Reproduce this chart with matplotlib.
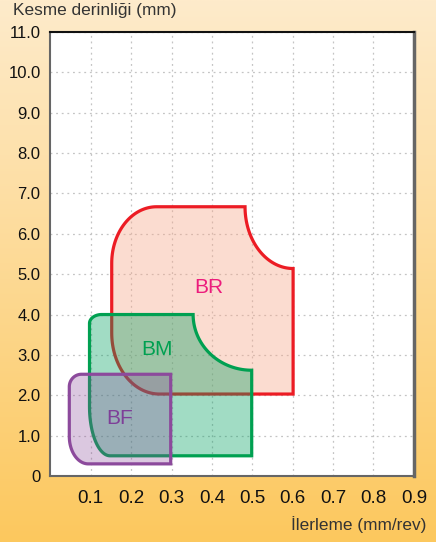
import numpy as np
import matplotlib
matplotlib.use("Agg")
import matplotlib.pyplot as plt
from matplotlib.patches import Polygon
from matplotlib.colors import to_rgba
from matplotlib import font_manager

# ---- data (feed mm/rev, depth of cut mm) ----
regions = ["BR", "BM", "BF"]
feed_min = [0.152, 0.097, 0.047]
feed_max = [0.601, 0.4985, 0.298]
depth_min = [2.03, 0.50, 0.30]
depth_max = [6.67, 4.00, 2.52]
# corner rounding (feed extent, depth extent)
top_left = [(0.111, 1.40), (0.030, 0.22), (0.030, 0.31)]
bottom_left = [(0.118, 1.51), (0.051, 1.22), (0.047, 0.68)]
top_right_cut = [(0.119, 1.53), (0.145, 1.38), (0.0, 0.0)]
label_pos = [(0.393, 4.66), (0.265, 3.13), (0.171, 1.42)]

edge_colors = ["#EC1C24", "#00A051", "#8C4A9C"]
face_colors = ["#F7A88A", "#00A060", "#8A4A9A"]
face_alpha = [0.40, 0.37, 0.30]
text_colors = ["#EC1C7C", "#00A051", "#7E3F98"]

x_ticks = [0.1, 0.2, 0.3, 0.4, 0.5, 0.6, 0.7, 0.8, 0.9]
y_ticks = [0, 1, 2, 3, 4, 5, 6, 7, 8, 9, 10, 11]
y_ticklabels = ["0"] + [f"{v:.1f}" for v in y_ticks[1:]]


def outline(x0, x1, y0, y1, tl, bl, tr, n=40):
    pts = []
    rx, ry = tl
    t = np.linspace(np.pi, np.pi / 2, n)
    pts += list(zip(x0 + rx + rx * np.cos(t), y1 - ry + ry * np.sin(t)))
    rx, ry = tr
    if rx > 0:
        # concave bite out of the top right corner
        t = np.linspace(np.pi, 1.5 * np.pi, n)
        pts += list(zip(x1 + rx * np.cos(t), y1 + ry * np.sin(t)))
    else:
        pts.append((x1, y1))
    pts.append((x1, y0))
    rx, ry = bl
    t = np.linspace(1.5 * np.pi, np.pi, n)
    pts += list(zip(x0 + rx + rx * np.cos(t), y0 + ry + ry * np.sin(t)))
    return np.array(pts)


def has_font(name):
    try:
        font_manager.findfont(name, fallback_to_default=False)
        return True
    except Exception:
        return False


tick_family = ["Liberation Sans", "DejaVu Sans"]
narrow_ok = has_font("Liberation Sans Narrow")
if narrow_ok:
    tick_family = ["Liberation Sans Narrow"] + tick_family

fig = plt.figure(figsize=(4.36, 5.42), dpi=100)

# background gradient
bg = fig.add_axes([0, 0, 1, 1], zorder=-1)
top = np.array(to_rgba("#FEEBCB"))
bot = np.array(to_rgba("#FCC85E"))
g = np.linspace(0, 1, 256)[:, None, None]
img = top * (1 - g) + bot * g
bg.imshow(np.repeat(img, 2, axis=1), aspect="auto", extent=[0, 1, 0, 1])
bg.axis("off")

ax = fig.add_axes([0.1154, 0.1218, 0.8339, 0.8192])
ax.set_facecolor("white")
ax.set_xlim(0, 0.9)
ax.set_ylim(0, 11)

for i, name in enumerate(regions):
    pts = outline(feed_min[i], feed_max[i], depth_min[i], depth_max[i],
                  top_left[i], bottom_left[i], top_right_cut[i])
    ax.add_patch(Polygon(pts, closed=True,
                         facecolor=to_rgba(face_colors[i], face_alpha[i]),
                         edgecolor=edge_colors[i], linewidth=2.3,
                         zorder=2 + i))
    ax.text(*label_pos[i], name, color=text_colors[i], fontsize=15,
            ha="center", va="center", family=["Liberation Sans", "DejaVu Sans"],
            zorder=6)

ax.set_xticks(x_ticks)
ax.set_xticklabels([f"{v:.1f}" for v in x_ticks])
ax.set_yticks(y_ticks)
ax.set_yticklabels(y_ticklabels)
xs = 15 if narrow_ok else 13.5
ys = 13.5 if narrow_ok else 12
for lab in ax.get_xticklabels():
    lab.set_family(tick_family)
    lab.set_fontsize(xs)
for lab in ax.get_yticklabels():
    lab.set_family(tick_family)
    lab.set_fontsize(ys)
ax.tick_params(axis="x", length=0, pad=10, colors="#111111")
ax.tick_params(axis="y", length=0, pad=7, colors="#111111")

ax.grid(True, color="#C4C4C4", linestyle=(0, (1.5, 3)), linewidth=0.9, zorder=0)
ax.set_axisbelow(True)

for side in ["left", "bottom", "right"]:
    ax.spines[side].set_color("#666666")
    ax.spines[side].set_linewidth(1.5)
ax.spines["right"].set_linewidth(2.5)
ax.spines["top"].set_color("#111111")
ax.spines["top"].set_linewidth(1.5)

fig.text(13 / 436, 1 - 11 / 542, "Kesme derinliği (mm)", fontsize=12.4,
         color="#333333", ha="left", va="center",
         family=["Liberation Sans", "DejaVu Sans"])
fig.text(426 / 436, 1 - 525 / 542, "İlerleme (mm/rev)", fontsize=12.4,
         color="#333333", ha="right", va="center",
         family=["Liberation Sans", "DejaVu Sans"])

fig.savefig("out.png", dpi=100)
